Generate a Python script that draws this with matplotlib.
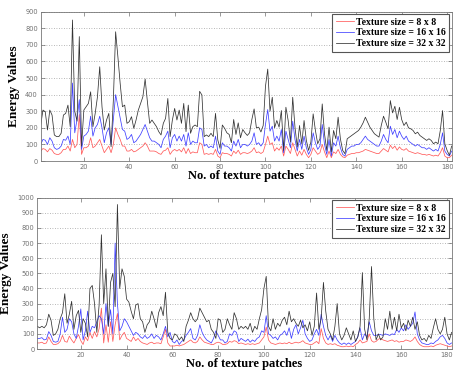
import matplotlib
matplotlib.use("Agg")
import matplotlib.pyplot as plt
import numpy as np

# ---------------- data ----------------
top_32 = [217, 307, 297, 187, 307, 277, 157, 147, 147, 167,
          277, 287, 337, 207, 850, 300, 240, 750, 90, 307,
          327, 347, 417, 207, 287, 387, 568, 327, 187, 247,
          287, 86, 367, 779, 628, 468, 327, 337, 227, 237,
          267, 197, 247, 307, 347, 387, 494, 357, 227, 247,
          227, 207, 177, 157, 227, 257, 377, 147, 247, 317,
          247, 307, 227, 347, 177, 337, 167, 207, 217, 207,
          420, 398, 147, 157, 147, 167, 147, 287, 127, 76,
          217, 197, 170, 160, 110, 250, 160, 230, 140, 190,
          170, 154, 170, 250, 314, 200, 204, 175, 214, 450,
          554, 300, 384, 200, 244, 204, 304, 64, 324, 244,
          114, 384, 204, 84, 214, 104, 244, 124, 64, 114,
          284, 184, 104, 134, 344, 164, 64, 204, 54, 184,
          134, 264, 134, 64, 44, 134, 144, 154, 164, 174,
          184, 204, 230, 264, 234, 204, 184, 164, 154, 144,
          214, 270, 234, 194, 364, 290, 330, 250, 324, 250,
          214, 234, 200, 194, 184, 164, 174, 154, 144, 134,
          124, 134, 124, 104, 114, 104, 184, 304, 104, 64,
          34, 90]
top_16 = [100, 130, 125, 100, 140, 120, 80, 70, 75, 90,
          130, 125, 150, 100, 470, 170, 250, 370, 70, 150,
          160, 180, 270, 150, 200, 220, 270, 200, 110, 170,
          200, 100, 250, 400, 330, 260, 190, 180, 130, 140,
          160, 110, 120, 140, 160, 190, 220, 180, 140, 120,
          120, 110, 100, 80, 130, 150, 180, 80, 140, 160,
          120, 150, 120, 160, 90, 170, 100, 120, 110, 110,
          200, 190, 90, 100, 80, 90, 80, 150, 60, 40,
          110, 90, 90, 80, 60, 120, 90, 130, 80, 100,
          100, 90, 100, 120, 170, 100, 110, 90, 110, 220,
          310, 180, 210, 120, 150, 120, 190, 50, 180, 130,
          80, 240, 130, 60, 130, 70, 150, 80, 40, 70,
          170, 110, 70, 90, 220, 100, 40, 130, 30, 110,
          90, 150, 80, 40, 30, 70, 80, 90, 90, 100,
          100, 110, 130, 150, 130, 120, 110, 100, 90, 90,
          120, 160, 130, 110, 210, 160, 190, 140, 180, 150,
          130, 150, 120, 110, 100, 90, 100, 90, 80, 80,
          70, 80, 70, 60, 70, 60, 100, 170, 60, 40,
          30, 60]
top_8 = [60, 75, 70, 55, 75, 65, 45, 40, 40, 50,
         70, 70, 90, 60, 130, 80, 100, 280, 40, 80,
         80, 90, 140, 80, 90, 110, 130, 90, 50, 70,
         90, 50, 100, 200, 160, 130, 90, 90, 60, 60,
         70, 55, 60, 70, 80, 90, 110, 90, 60, 60,
         60, 55, 45, 40, 60, 65, 80, 40, 60, 70,
         60, 70, 55, 80, 45, 75, 45, 55, 50, 50,
         110, 100, 40, 45, 40, 45, 40, 70, 30, 20,
         50, 45, 45, 40, 30, 60, 45, 65, 40, 50,
         50, 45, 50, 60, 80, 50, 55, 45, 55, 100,
         150, 100, 110, 60, 80, 65, 90, 30, 90, 70,
         45, 110, 70, 30, 60, 35, 70, 40, 20, 40,
         80, 60, 40, 50, 100, 55, 20, 60, 20, 55,
         45, 70, 40, 25, 20, 35, 40, 45, 45, 50,
         50, 55, 60, 70, 65, 60, 55, 50, 45, 45,
         60, 75, 65, 55, 95, 75, 90, 65, 85, 70,
         65, 75, 60, 55, 50, 45, 50, 45, 40, 40,
         35, 40, 35, 30, 35, 30, 50, 80, 30, 20,
         20, 35]

bot_32 = [150, 140, 150, 140, 160, 230, 190, 90, 100, 130,
          200, 240, 365, 170, 230, 315, 130, 220, 255, 110,
          200, 170, 80, 400, 420, 300, 110, 290, 755, 300,
          530, 150, 440, 500, 280, 955, 400, 530, 480, 330,
          310, 250, 200, 290, 300, 200, 180, 110, 160, 180,
          250, 200, 140, 240, 280, 220, 375, 110, 70, 60,
          100, 90, 60, 80, 50, 150, 190, 240, 200, 180,
          200, 270, 240, 210, 180, 190, 130, 110, 70, 200,
          190, 110, 130, 200, 160, 130, 240, 200, 130, 150,
          136, 150, 130, 170, 110, 150, 130, 200, 260, 400,
          480, 150, 120, 200, 130, 170, 150, 190, 210, 160,
          250, 180, 200, 170, 150, 190, 140, 160, 120, 180,
          90, 150, 370, 130, 200, 440, 250, 130, 100, 60,
          150, 300, 100, 60, 90, 140, 100, 60, 120, 50,
          80, 150, 505, 130, 60, 200, 545, 200, 60, 100,
          60, 80, 200, 130, 250, 130, 210, 120, 230, 140,
          170, 120, 190, 150, 210, 130, 180, 90, 60, 70,
          50, 90, 70, 140, 200, 130, 100, 130, 210, 100,
          60, 110]
bot_16 = [70, 70, 75, 60, 65, 115, 90, 50, 45, 50,
          100, 210, 110, 130, 200, 180, 100, 70, 150, 265,
          60, 120, 250, 110, 150, 140, 180, 220, 200, 100,
          300, 150, 260, 100, 700, 300, 120, 150, 200, 180,
          150, 120, 90, 110, 100, 80, 70, 90, 70, 80,
          100, 70, 90, 80, 60, 100, 150, 80, 110, 50,
          40, 60, 30, 50, 60, 90, 110, 135, 70, 60,
          90, 160, 110, 80, 60, 50, 40, 70, 120, 90,
          60, 60, 40, 50, 100, 90, 120, 110, 50, 70,
          60, 50, 65, 45, 60, 50, 70, 80, 120, 110,
          220, 100, 90, 70, 80, 60, 90, 100, 120, 90,
          140, 70, 130, 160, 100, 140, 190, 100, 70, 50,
          60, 100, 130, 90, 230, 150, 90, 60, 90, 50,
          90, 60, 40, 30, 40, 30, 40, 30, 40, 50,
          80, 140, 60, 100, 80, 180, 120, 90, 90, 95,
          95, 90, 100, 95, 90, 100, 95, 130, 110, 140,
          120, 160, 130, 150, 170, 245, 100, 60, 40, 35,
          30, 30, 40, 35, 50, 60, 80, 90, 70, 40,
          30, 40]
bot_8 = [40, 40, 45, 35, 40, 80, 50, 30, 30, 35,
         50, 90, 50, 45, 85, 60, 40, 70, 95, 55,
         30, 80, 55, 110, 70, 115, 80, 135, 270, 40,
         160, 45, 180, 50, 160, 235, 60, 90, 110, 70,
         60, 50, 80, 55, 70, 50, 40, 35, 30, 40,
         45, 35, 40, 40, 35, 80, 130, 40, 20, 20,
         20, 25, 20, 25, 30, 40, 50, 60, 45, 40,
         50, 80, 60, 45, 40, 35, 30, 30, 40, 45,
         40, 30, 30, 35, 50, 45, 55, 50, 35, 40,
         35, 30, 35, 30, 35, 30, 35, 40, 60, 80,
         145, 60, 40, 35, 30, 35, 40, 35, 40, 35,
         45, 35, 40, 45, 40, 45, 55, 40, 35, 30,
         30, 40, 50, 35, 135, 70, 40, 30, 35, 30,
         35, 25, 20, 15, 15, 20, 15, 20, 15, 30,
         40, 60, 40, 45, 50, 100, 55, 45, 50, 65,
         70, 60, 55, 50, 55, 60, 50, 55, 45, 50,
         50, 60, 55, 50, 60, 80, 50, 30, 20, 15,
         15, 15, 20, 15, 25, 30, 35, 30, 25, 20,
         15, 20]

labels_top = ["Texture size = 8 x 8", "Texture size = 16 x 16", "Texture size = 32 x 32"]
labels_bot = ["Texture size = 8 x 8", "Texture size = 16 x 16", "Texture size = 32 x 32"]
xticks = [20, 40, 60, 80, 100, 120, 140, 160, 180]
xlabel = "No. of texture patches"
ylabel = "Energy Values"

# ---------------- drawing ----------------
W, H = 453, 371
fig = plt.figure(figsize=(W / 100, H / 100), dpi=100)

c_red = "#ff5a5a"
c_blue = "#4040ff"
c_black = "#333333"
serif = "Liberation Serif"


def panel(rect, s8, s16, s32, ymax, labels):
    ax = fig.add_axes(rect)
    x = np.arange(1, len(s8) + 1)
    ax.plot(x, s8, color=c_red, lw=0.55, label=labels[0])
    ax.plot(x, s16, color=c_blue, lw=0.55, label=labels[1])
    ax.plot(x, s32, color=c_black, lw=0.55, label=labels[2])
    ax.set_xlim(1, 182)
    ax.set_ylim(0, ymax)
    ax.set_xticks(xticks)
    ax.set_yticks(np.arange(0, ymax + 1, 100))
    ax.yaxis.grid(True, linestyle=(0, (1, 2)), color="#a0a0a0", lw=0.6)
    ax.set_axisbelow(True)
    ax.tick_params(direction="in", top=True, right=True, length=3,
                   width=0.5, labelsize=4.8, colors="#707070", pad=2)
    for sp in ax.spines.values():
        sp.set_color("#777777")
        sp.set_linewidth(0.6)
    ax.set_xlabel(xlabel, fontfamily=serif, fontweight="bold", fontsize=9, labelpad=0.5)
    ax.set_ylabel(ylabel, fontfamily=serif, fontweight="bold", fontsize=9.5, labelpad=4)
    leg = ax.legend(loc="upper right", prop={"family": serif, "weight": "bold", "size": 7},
                    fancybox=False, framealpha=1, edgecolor="#555555",
                    handlelength=1.9, handletextpad=0.2, borderpad=0.35,
                    labelspacing=0.2, borderaxespad=0.25)
    leg.get_frame().set_linewidth(0.8)
    return ax


panel([40.7 / W, 1 - 161 / H, 0.997 - 40.7 / W, (161 - 11.7) / H],
      top_8, top_16, top_32, 900, labels_top)
panel([37.3 / W, 1 - 349 / H, 0.997 - 37.3 / W, (349 - 197.7) / H],
      bot_8, bot_16, bot_32, 1000, labels_bot)

fig.savefig("out.png", dpi=100)
